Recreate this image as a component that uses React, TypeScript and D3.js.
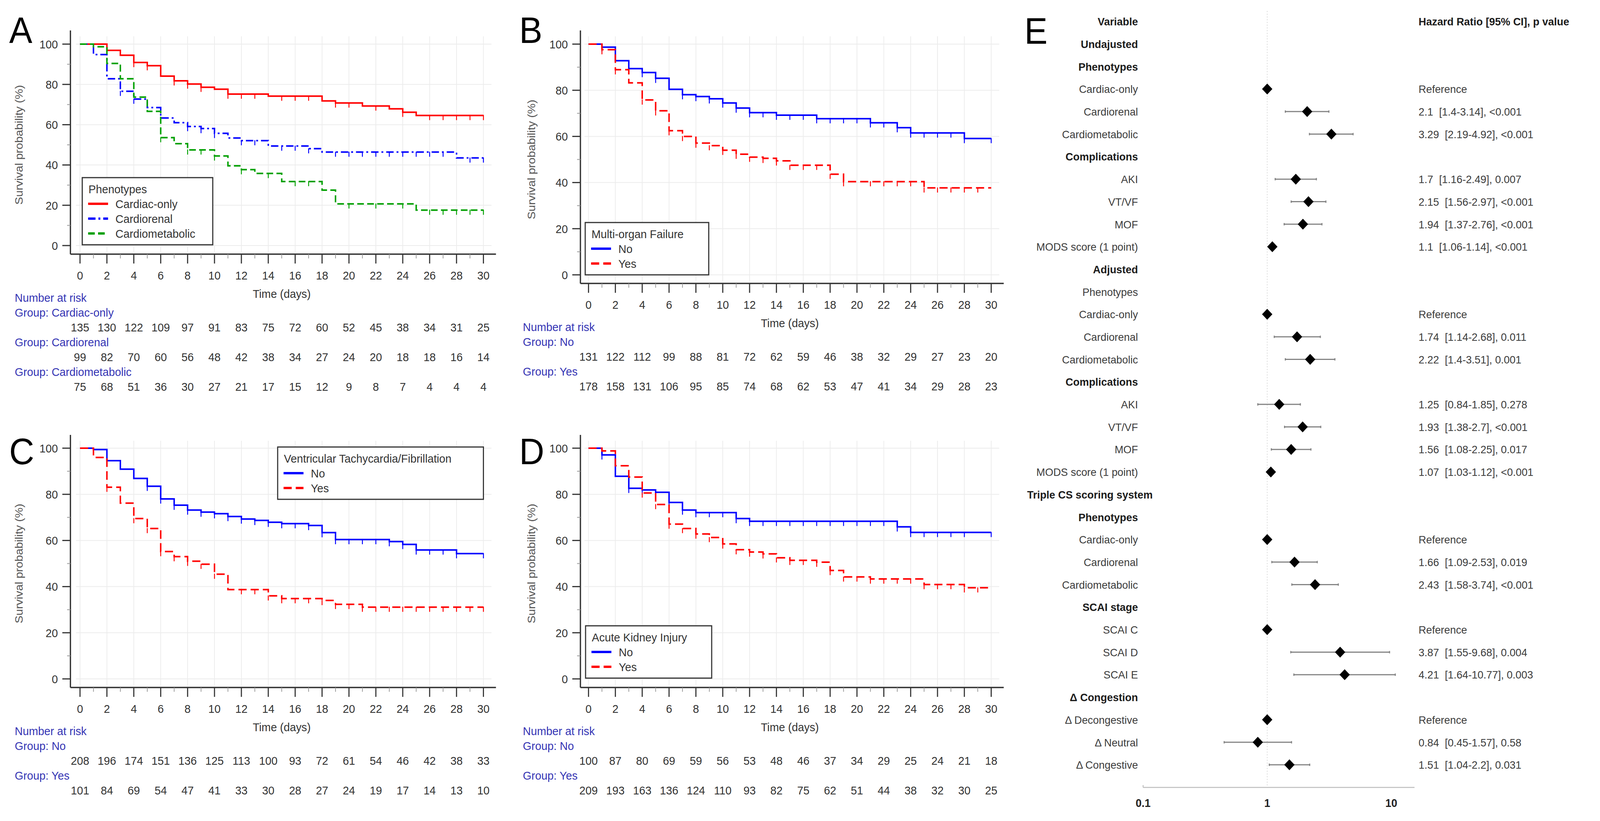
import * as d3 from "d3";

const FONT = "'Liberation Sans', Arial, Helvetica, sans-serif";
const RED = "#ff0000";
const BLUE = "#0000ff";
const GREEN = "#00a000";
const RISK_LABEL = "#3434b4";

const timeTicks = [0, 2, 4, 6, 8, 10, 12, 14, 16, 18, 20, 22, 24, 26, 28, 30];
const minorTimeTicks = [1, 3, 5, 7, 9, 11, 13, 15, 17, 19, 21, 23, 25, 27, 29];
const survTicks = [0, 20, 40, 60, 80, 100];
const survMinor = [10, 30, 50, 70, 90];

// A - phenotypes
const aCardiacOnly = [[0, 100], [2, 96.9], [3, 94.5], [4, 90.9], [5, 89.3], [6, 84.1], [7, 81.8], [8, 80.2], [9, 78.6], [10, 77.6], [11, 75.2], [14, 74.2], [18, 71.8], [19, 70.8], [21, 69.3], [23, 67.9], [24, 66.2], [25, 64.6], [30, 64.6]];
const aCardiorenal = [[0, 100], [1, 94.8], [2, 82.8], [3, 76.6], [4, 72.7], [5, 68.5], [6, 63.3], [7, 61.0], [8, 59.1], [9, 58.1], [10, 55.7], [11, 53.4], [12, 52.1], [14, 49.4], [17, 48.1], [18, 46.4], [28, 43.5], [30, 43.5]];
const aCardiometabolic = [[0, 100], [1, 98.7], [2, 90.4], [3, 82.8], [4, 73.7], [5, 66.6], [6, 53.6], [7, 50.6], [8, 47.5], [10, 44.5], [11, 39.6], [12, 37.7], [13, 35.8], [15, 31.8], [18, 27.5], [19, 20.7], [25, 17.6], [30, 17.6]];
const aCardiacOnlyCens = [4, 5, 7, 8, 9, 11, 12, 13, 15, 16, 17, 19, 20, 22, 24, 26, 27, 28, 29, 30];
const aCardiorenalCens = [3, 4, 8, 9, 10, 12, 13, 15, 16, 17, 19, 20, 21, 22, 23, 24, 25, 26, 27, 29, 30];
const aCardiometabolicCens = [6, 8, 9, 10, 12, 14, 16, 17, 20, 22, 24, 26, 27, 28, 29, 30];
const riskACardiacOnly = [135, 130, 122, 109, 97, 91, 83, 75, 72, 60, 52, 45, 38, 34, 31, 25];
const riskACardiorenal = [99, 82, 70, 60, 56, 48, 42, 38, 34, 27, 24, 20, 18, 18, 16, 14];
const riskACardiometabolic = [75, 68, 51, 36, 30, 27, 21, 17, 15, 12, 9, 8, 7, 4, 4, 4];

// B - multi-organ failure
const bNo = [[0, 100], [1, 98.7], [2, 92.8], [3, 89.4], [4, 87.7], [5, 85.2], [6, 80.4], [7, 78.1], [8, 77.3], [9, 76.3], [10, 74.5], [11, 72.3], [12, 70.3], [14, 69.2], [17, 67.7], [21, 65.9], [23, 63.8], [24, 61.5], [28, 59.1], [30, 59.1]];
const bYes = [[0, 100], [1, 97.6], [2, 88.9], [3, 83.2], [4, 75.8], [5, 71.1], [6, 62.5], [7, 60.0], [8, 57.1], [9, 56.0], [10, 54.0], [11, 52.3], [12, 51.0], [13, 50.5], [14, 49.4], [15, 47.5], [18, 43.6], [19, 40.4], [25, 37.7], [30, 37.7]];
const bNoCens = [1, 3, 4, 5, 7, 8, 9, 10, 11, 12, 13, 14, 15, 16, 17, 18, 19, 20, 21, 22, 23, 24, 25, 26, 27, 28, 30];
const bYesCens = [1, 2, 4, 5, 6, 7, 8, 9, 10, 11, 12, 13, 14, 15, 16, 17, 18, 19, 21, 22, 23, 24, 25, 26, 27, 28, 29];
const riskBNo = [131, 122, 112, 99, 88, 81, 72, 62, 59, 46, 38, 32, 29, 27, 23, 20];
const riskBYes = [178, 158, 131, 106, 95, 85, 74, 68, 62, 53, 47, 41, 34, 29, 28, 23];

// C - VT/VF
const cNo = [[0, 100], [1, 99.4], [2, 94.6], [3, 90.9], [4, 86.9], [5, 83.5], [6, 78.0], [7, 75.3], [8, 73.2], [9, 72.3], [10, 71.6], [11, 70.4], [12, 69.3], [13, 68.7], [14, 67.9], [15, 67.3], [17, 66.5], [18, 63.4], [19, 60.4], [23, 59.5], [24, 58.3], [25, 55.9], [28, 54.3], [30, 54.3]];
const cYes = [[0, 100], [1, 96.0], [2, 83.1], [3, 76.2], [4, 69.5], [5, 65.2], [6, 55.2], [7, 53.0], [8, 51.0], [9, 49.7], [10, 45.4], [11, 38.7], [14, 36.0], [15, 34.8], [18, 34.0], [19, 32.3], [21, 31.1], [30, 31.1]];
const cNoCens = [5, 6, 7, 8, 9, 10, 11, 12, 13, 14, 15, 16, 17, 18, 19, 20, 21, 22, 23, 24, 25, 26, 27, 28, 30];
const cYesCens = [2, 4, 5, 6, 7, 8, 9, 10, 12, 13, 14, 15, 16, 17, 18, 19, 20, 21, 22, 23, 24, 25, 26, 27, 28, 29, 30];
const riskCNo = [208, 196, 174, 151, 136, 125, 113, 100, 93, 72, 61, 54, 46, 42, 38, 33];
const riskCYes = [101, 84, 69, 54, 47, 41, 33, 30, 28, 27, 24, 19, 17, 14, 13, 10];

// D - AKI
const dNo = [[0, 100], [1, 97.1], [2, 87.8], [3, 82.6], [4, 81.9], [5, 80.9], [6, 76.5], [7, 73.2], [8, 72.1], [11, 69.5], [12, 68.3], [23, 65.9], [24, 63.5], [30, 63.5]];
const dYes = [[0, 100], [1, 98.8], [2, 92.4], [3, 87.5], [4, 80.6], [5, 75.6], [6, 67.1], [7, 65.2], [8, 62.8], [9, 61.3], [10, 58.5], [11, 56.0], [12, 55.0], [13, 54.2], [14, 52.5], [15, 51.4], [17, 50.6], [18, 47.0], [19, 44.2], [21, 43.3], [25, 40.9], [28, 39.5], [30, 39.5]];
const dNoCens = [1, 3, 4, 6, 7, 8, 9, 10, 11, 12, 13, 14, 15, 16, 17, 18, 19, 20, 21, 22, 23, 24, 25, 26, 27, 28, 30];
const dYesCens = [4, 5, 6, 7, 8, 9, 10, 11, 12, 13, 14, 15, 16, 17, 18, 19, 20, 21, 22, 23, 24, 25, 26, 27, 28, 29];
const riskDNo = [100, 87, 80, 69, 59, 56, 53, 48, 46, 37, 34, 29, 25, 24, 21, 18];
const riskDYes = [209, 193, 163, 136, 124, 110, 93, 82, 75, 62, 51, 44, 38, 32, 30, 25];

// E - forest plot
const forestLabels = ["Variable", "Undajusted", "Phenotypes", "Cardiac-only", "Cardiorenal", "Cardiometabolic", "Complications", "AKI", "VT/VF", "MOF", "MODS score (1 point)", "Adjusted", "Phenotypes", "Cardiac-only", "Cardiorenal", "Cardiometabolic", "Complications", "AKI", "VT/VF", "MOF", "MODS score (1 point)", "Triple CS scoring system", "Phenotypes", "Cardiac-only", "Cardiorenal", "Cardiometabolic", "SCAI stage", "SCAI C", "SCAI D", "SCAI E", "Δ Congestion", "Δ Decongestive", "Δ Neutral", "Δ Congestive"];
const forestHeading = [1, 1, 1, 0, 0, 0, 1, 0, 0, 0, 0, 1, 0, 0, 0, 0, 1, 0, 0, 0, 0, 1, 1, 0, 0, 0, 1, 0, 0, 0, 1, 0, 0, 0];
const hrEst = [null, null, null, 1, 2.1, 3.29, null, 1.7, 2.15, 1.94, 1.1, null, null, 1, 1.74, 2.22, null, 1.25, 1.93, 1.56, 1.07, null, null, 1, 1.66, 2.43, null, 1, 3.87, 4.21, null, 1, 0.84, 1.51];
const hrLow = [null, null, null, null, 1.4, 2.19, null, 1.16, 1.56, 1.37, 1.06, null, null, null, 1.14, 1.4, null, 0.84, 1.38, 1.08, 1.03, null, null, null, 1.09, 1.58, null, null, 1.55, 1.64, null, null, 0.45, 1.04];
const hrHigh = [null, null, null, null, 3.14, 4.92, null, 2.49, 2.97, 2.76, 1.14, null, null, null, 2.68, 3.51, null, 1.85, 2.7, 2.25, 1.12, null, null, null, 2.53, 3.74, null, null, 9.68, 10.77, null, null, 1.57, 2.2];
const hrText = ["Hazard Ratio [95% CI], p value", "", "", "Reference", "2.1  [1.4-3.14], <0.001", "3.29  [2.19-4.92], <0.001", "", "1.7  [1.16-2.49], 0.007", "2.15  [1.56-2.97], <0.001", "1.94  [1.37-2.76], <0.001", "1.1  [1.06-1.14], <0.001", "", "", "Reference", "1.74  [1.14-2.68], 0.011", "2.22  [1.4-3.51], 0.001", "", "1.25  [0.84-1.85], 0.278", "1.93  [1.38-2.7], <0.001", "1.56  [1.08-2.25], 0.017", "1.07  [1.03-1.12], <0.001", "", "", "Reference", "1.66  [1.09-2.53], 0.019", "2.43  [1.58-3.74], <0.001", "", "Reference", "3.87  [1.55-9.68], 0.004", "4.21  [1.64-10.77], 0.003", "", "Reference", "0.84  [0.45-1.57], 0.58", "1.51  [1.04-2.2], 0.031"];
const hrTicks = [0.1, 1, 10];

const DASHED = "22 11";
const DASHDOT = "20 8 5 8";
const GDASH = "18 9";

const panels = [
  {
    letter: "A", x0: 217, x1: 1311, y0: 629, y100: 113, axisX: 191, top: 78, letterY: 110, ylabX: 51, tableX: 40,
    legend: { x: 223, y: 455, w: 354, h: 172, title: "Phenotypes" },
    series: [
      { name: "Cardiac-only", pts: aCardiacOnly, cens: aCardiacOnlyCens, color: RED, dash: null, risk: riskACardiacOnly },
      { name: "Cardiorenal", pts: aCardiorenal, cens: aCardiorenalCens, color: BLUE, dash: DASHDOT, risk: riskACardiorenal },
      { name: "Cardiometabolic", pts: aCardiometabolic, cens: aCardiometabolicCens, color: GREEN, dash: GDASH, risk: riskACardiometabolic },
    ],
  },
  {
    letter: "B", x0: 1596, x1: 2688, y0: 704, y100: 113, axisX: 1574, top: 78, letterY: 110, ylabX: 1440, tableX: 1418,
    legend: { x: 1587, y: 570, w: 335, h: 134, title: "Multi-organ Failure" },
    series: [
      { name: "No", pts: bNo, cens: bNoCens, color: BLUE, dash: null, risk: riskBNo },
      { name: "Yes", pts: bYes, cens: bYesCens, color: RED, dash: DASHED, risk: riskBYes },
    ],
  },
  {
    letter: "C", x0: 217, x1: 1311, y0: 1739, y100: 1148, axisX: 191, top: 1114, letterY: 1189, ylabX: 51, tableX: 40,
    legend: { x: 753, y: 1145, w: 558, h: 134, title: "Ventricular Tachycardia/Fibrillation" },
    series: [
      { name: "No", pts: cNo, cens: cNoCens, color: BLUE, dash: null, risk: riskCNo },
      { name: "Yes", pts: cYes, cens: cYesCens, color: RED, dash: DASHED, risk: riskCYes },
    ],
  },
  {
    letter: "D", x0: 1596, x1: 2688, y0: 1739, y100: 1148, axisX: 1574, top: 1114, letterY: 1189, ylabX: 1440, tableX: 1418,
    legend: { x: 1588, y: 1603, w: 342, h: 134, title: "Acute Kidney Injury" },
    series: [
      { name: "No", pts: dNo, cens: dNoCens, color: BLUE, dash: null, risk: riskDNo },
      { name: "Yes", pts: dYes, cens: dYesCens, color: RED, dash: DASHED, risk: riskDYes },
    ],
  },
];

function stepValue(pts, t) {
  let v = pts[0][1];
  for (const [d, s] of pts) if (d <= t) v = s;
  return v;
}

function KMPanel({ p }) {
  const x = d3.scaleLinear().domain([0, 30]).range([p.x0, p.x1]);
  const y = d3.scaleLinear().domain([0, 100]).range([p.y0, p.y100]);
  const xAxisY = p.y0 + 22;
  const line = d3
    .line()
    .x((d) => x(d[0]))
    .y((d) => y(d[1]))
    .curve(d3.curveStepAfter);
  const tableY = xAxisY + 111;
  const lg = p.legend;

  return (
    <g fontFamily={FONT}>
      {/* grid */}
      {survTicks.map((v) => (
        <line key={"gy" + v} x1={x(-0.3)} x2={x(30.6)} y1={y(v)} y2={y(v)} stroke="#ececec" strokeWidth={2} />
      ))}
      {timeTicks.map((t) => (
        <line key={"gx" + t} x1={x(t)} x2={x(t)} y1={p.top + 15} y2={xAxisY - 3} stroke="#ececec" strokeWidth={2} />
      ))}

      {/* axes */}
      <line x1={p.axisX} x2={p.axisX} y1={p.top} y2={xAxisY} stroke="#333" strokeWidth={3.5} />
      <line x1={p.axisX} x2={x(30) + 34} y1={xAxisY} y2={xAxisY} stroke="#333" strokeWidth={3.5} />
      {survTicks.map((v) => (
        <g key={"yt" + v}>
          <line x1={p.axisX - 22} x2={p.axisX} y1={y(v)} y2={y(v)} stroke="#333" strokeWidth={3} />
          <text x={p.axisX - 34} y={y(v)} dy="0.36em" textAnchor="end" fontSize={30} fill="#333">
            {v}
          </text>
        </g>
      ))}
      {survMinor.map((v) => (
        <line key={"ym" + v} x1={p.axisX - 9} x2={p.axisX} y1={y(v)} y2={y(v)} stroke="#999" strokeWidth={2} />
      ))}
      {timeTicks.map((t) => (
        <g key={"xt" + t}>
          <line x1={x(t)} x2={x(t)} y1={xAxisY} y2={xAxisY + 24} stroke="#333" strokeWidth={3} />
          <text x={x(t)} y={xAxisY + 54} dy="0.36em" textAnchor="middle" fontSize={30} fill="#333">
            {t}
          </text>
        </g>
      ))}
      {minorTimeTicks.map((t) => (
        <line key={"xm" + t} x1={x(t)} x2={x(t)} y1={xAxisY} y2={xAxisY + 11} stroke="#999" strokeWidth={2} />
      ))}
      <text x={x(15)} y={xAxisY + 101} dy="0.36em" textAnchor="middle" fontSize={30} fill="#333">
        Time (days)
      </text>
      <text
        transform={`translate(${p.ylabX},${(p.y0 + p.y100) / 2}) rotate(-90)`}
        dy="0.36em"
        textAnchor="middle"
        fontSize={30}
        fill="#555"
      >
        Survival probability (%)
      </text>

      {/* curves */}
      {p.series.map((s) => (
        <g key={"s" + s.name}>
          <path d={line(s.pts)} fill="none" stroke={s.color} strokeWidth={4} strokeDasharray={s.dash || undefined} />
          {s.cens.map((t) => (
            <line
              key={"c" + t}
              x1={x(t)}
              x2={x(t)}
              y1={y(stepValue(s.pts, t)) - 1}
              y2={y(stepValue(s.pts, t)) + 12}
              stroke={s.color}
              strokeWidth={2.5}
            />
          ))}
        </g>
      ))}

      {/* legend */}
      <rect x={lg.x} y={lg.y} width={lg.w} height={lg.h} fill="#fff" stroke="#333" strokeWidth={3} />
      <text x={lg.x + 17} y={lg.y + 29} dy="0.36em" fontSize={30} fill="#333">
        {lg.title}
      </text>
      {p.series.map((s, i) => (
        <g key={"lg" + s.name}>
          <line
            x1={lg.x + 16}
            x2={lg.x + 70}
            y1={lg.y + 67 + i * 38}
            y2={lg.y + 67 + i * 38}
            stroke={s.color}
            strokeWidth={6}
            strokeDasharray={s.dash || undefined}
          />
          <text x={lg.x + 90} y={lg.y + 67 + i * 38} dy="0.36em" fontSize={30} fill="#333">
            {s.name}
          </text>
        </g>
      ))}

      {/* number at risk */}
      <text x={p.tableX} y={tableY} dy="0.36em" fontSize={30} fill={RISK_LABEL}>
        Number at risk
      </text>
      {p.series.map((s, i) => (
        <g key={"rt" + s.name}>
          <text x={p.tableX} y={tableY + 38 + i * 76} dy="0.36em" fontSize={30} fill={RISK_LABEL}>
            {"Group: " + s.name}
          </text>
          {s.risk.map((n, j) => (
            <text key={"n" + j} x={x(timeTicks[j])} y={tableY + 76 + i * 76} dy="0.36em" textAnchor="middle" fontSize={30} fill="#333">
              {n}
            </text>
          ))}
        </g>
      ))}

      <text x={p.axisX - 166} y={p.letterY} fontSize={94} fill="#000">
        {p.letter}
      </text>
    </g>
  );
}

function ForestPanel() {
  const x = d3.scaleLog().domain([0.1, 10]).range([3100, 3773]);
  const y = d3.scaleLinear().domain([0, forestLabels.length - 1]).range([55, 1959]);
  const axisY = 2017;
  const labelX = 3086;
  const textX = 3847;

  return (
    <g fontFamily={FONT}>
      <text x={2778} y={112} fontSize={94} fill="#000">
        E
      </text>
      <line x1={x(1)} x2={x(1)} y1={28} y2={axisY} stroke="#dcdcdc" strokeWidth={2} strokeDasharray="3 4" />
      <line x1={x(0.1)} x2={x(10) + 63} y1={axisY} y2={axisY} stroke="#bdbdbd" strokeWidth={2.5} />
      <line x1={x(0.1)} x2={x(0.1)} y1={axisY - 6} y2={axisY} stroke="#bdbdbd" strokeWidth={2.5} />
      {hrTicks.map((t) => (
        <text key={"ht" + t} x={x(t)} y={axisY + 40} dy="0.36em" textAnchor="middle" fontSize={29} fontWeight="bold" fill="#222">
          {t}
        </text>
      ))}
      {forestLabels.map((lab, i) => {
        const special = lab === "Triple CS scoring system";
        return (
          <text
            key={"fl" + i}
            x={special ? labelX + 40 : labelX}
            y={y(i)}
            dy="0.36em"
            textAnchor="end"
            fontSize={28.5}
            fontWeight={forestHeading[i] ? "bold" : "normal"}
            fill={forestHeading[i] ? "#1c1c1c" : "#3c3c3c"}
          >
            {lab}
          </text>
        );
      })}
      {hrLow.map((lo, i) =>
        lo == null ? null : (
          <g key={"ci" + i} stroke="#858585" strokeWidth={3}>
            <line x1={x(lo)} x2={x(hrHigh[i])} y1={y(i)} y2={y(i)} />
            <line x1={x(lo)} x2={x(lo)} y1={y(i) - 3} y2={y(i) + 3} />
            <line x1={x(hrHigh[i])} x2={x(hrHigh[i])} y1={y(i) - 3} y2={y(i) + 3} />
          </g>
        )
      )}
      {hrEst.map((e, i) =>
        e == null ? null : (
          <path
            key={"dm" + i}
            d={`M${x(e)},${y(i) - 14} L${x(e) + 14},${y(i)} L${x(e)},${y(i) + 14} L${x(e) - 14},${y(i)} Z`}
            fill="#000"
          />
        )
      )}
      {hrText.map((t, i) =>
        t ? (
          <text
            key={"hx" + i}
            x={textX}
            y={y(i)}
            dy="0.36em"
            fontSize={28.5}
            fontWeight={i === 0 ? "bold" : "normal"}
            fill={i === 0 ? "#1c1c1c" : "#3c3c3c"}
            xmlSpace="preserve"
            style={{ whiteSpace: "pre" }}
          >
            {t}
          </text>
        ) : null
      )}
    </g>
  );
}

export default function App() {
  return (
    <svg
      viewBox="0 0 4339 2103"
      preserveAspectRatio="none"
      style={{ position: "fixed", left: 0, top: 0, width: "100vw", height: "100vh", background: "#fff", display: "block" }}
    >
      <rect width={4339} height={2103} fill="#fff" />
      {panels.map((p) => (
        <KMPanel key={p.letter} p={p} />
      ))}
      <ForestPanel />
    </svg>
  );
}
